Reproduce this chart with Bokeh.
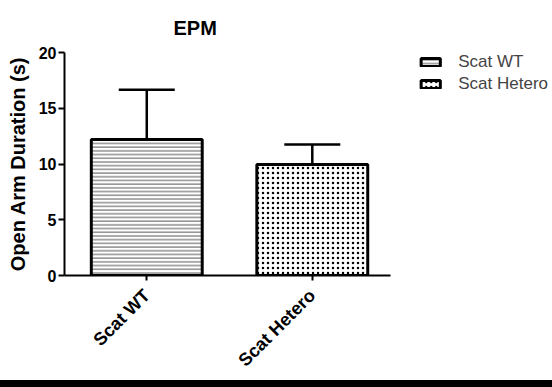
from bokeh.plotting import figure
from bokeh.models import (Range1d, ColumnDataSource, Legend, LegendItem, Title,
                          FixedTicker, Div)
from bokeh.layouts import column
from bokeh.embed import file_html
from bokeh.resources import INLINE
from math import pi

# ---- data ----
groups = ["Scat WT", "Scat Hetero"]
means = [12.2, 9.95]
sems = [4.45, 1.8]
y_ticks = [0, 5, 10, 15, 20]
title_text = "EPM"
y_label = "Open Arm Duration (s)"
footer_text = "WT 9; hetero 17"

FONT = "Liberation Sans"
xs = list(range(1, len(groups) + 1))   # category positions

p = figure(width=552, height=380, x_range=Range1d(0.503, 3.427),
           y_range=Range1d(0, 20), output_backend="svg", toolbar_location=None,
           min_border_left=64, min_border_right=4, min_border_top=52,
           min_border_bottom=104)
p.outline_line_color = None
p.xgrid.grid_line_color = None
p.ygrid.grid_line_color = None

src1 = ColumnDataSource(data=dict(x=[xs[0]], top=[means[0]],
                                  upper=[means[0] + sems[0]]))
src2 = ColumnDataSource(data=dict(x=[xs[1]], top=[means[1]],
                                  upper=[means[1] + sems[1]]))

# error bars (upper only): stem + cap
for src in (src1, src2):
    p.segment(x0="x", y0="top", x1="x", y1="upper", source=src,
              line_color="black", line_width=2.5)
    p.scatter(x="x", y="upper", source=src, marker="dash", size=56,
              line_color="black", line_width=2.5)

r1 = p.vbar(x="x", top="top", width=0.67, source=src1, fill_color="white",
            line_color="black", line_width=3,
            hatch_pattern="horizontal_line", hatch_scale=3.7, hatch_weight=1,
            hatch_color="#555555")
r2 = p.vbar(x="x", top="top", width=0.67, source=src2, fill_color="white",
            line_color="black", line_width=3,
            hatch_pattern="dot", hatch_scale=5, hatch_weight=4,
            hatch_color="black")

for ax in (p.xaxis[0], p.yaxis[0]):
    ax.axis_line_width = 2
    ax.major_tick_line_width = 2
    ax.minor_tick_line_color = None
    ax.major_tick_in = 0
    ax.major_label_text_font = FONT
    ax.major_label_text_font_style = "bold"
    ax.major_label_text_font_size = "16px"
    ax.major_label_text_color = "black"

p.yaxis.ticker = FixedTicker(ticks=y_ticks)
p.yaxis.major_tick_out = 6
p.yaxis.major_label_standoff = 2
p.yaxis.axis_label = y_label
p.yaxis.axis_label_text_font = FONT
p.yaxis.axis_label_text_font_style = "bold"
p.yaxis.axis_label_text_font_size = "20px"
p.yaxis.axis_label_text_color = "black"
p.yaxis.axis_label_standoff = 7

p.xaxis.ticker = FixedTicker(ticks=xs)
p.xaxis.major_label_overrides = {x: g for x, g in zip(xs, groups)}
p.xaxis.bounds = (0.503, 2.47)
p.xaxis.major_tick_out = 5
p.xaxis.major_label_orientation = pi / 4
p.xaxis.major_label_text_font_size = "18px"
p.xaxis.major_label_standoff = 12

t = Title(text=title_text, align="left", offset=109, standoff=27,
          text_font=FONT, text_font_style="bold", text_font_size="20px",
          text_color="black")
p.add_layout(t, "above")

f = Title(text=footer_text, align="left", offset=-9, standoff=-36,
          text_font=FONT, text_font_style="normal", text_font_size="15px",
          text_color="black")
p.add_layout(f, "below")

legend = Legend(items=[LegendItem(label=groups[0], renderers=[r1]),
                       LegendItem(label=groups[1], renderers=[r2])],
                location="top_right", padding=2, margin=0, spacing=2,
                glyph_width=24, glyph_height=10, label_height=20,
                label_standoff=16, border_line_color=None,
                background_fill_alpha=0,
                label_text_font=FONT, label_text_font_size="17px")
p.add_layout(legend, "center")

strip = Div(text='<div style="background:#000;width:552px;height:6px"></div>',
            width=552, height=6, margin=0, styles={"background-color": "black"})

layout = column(p, strip, spacing=0)
open("out.html", "w").write(file_html(layout, INLINE))
